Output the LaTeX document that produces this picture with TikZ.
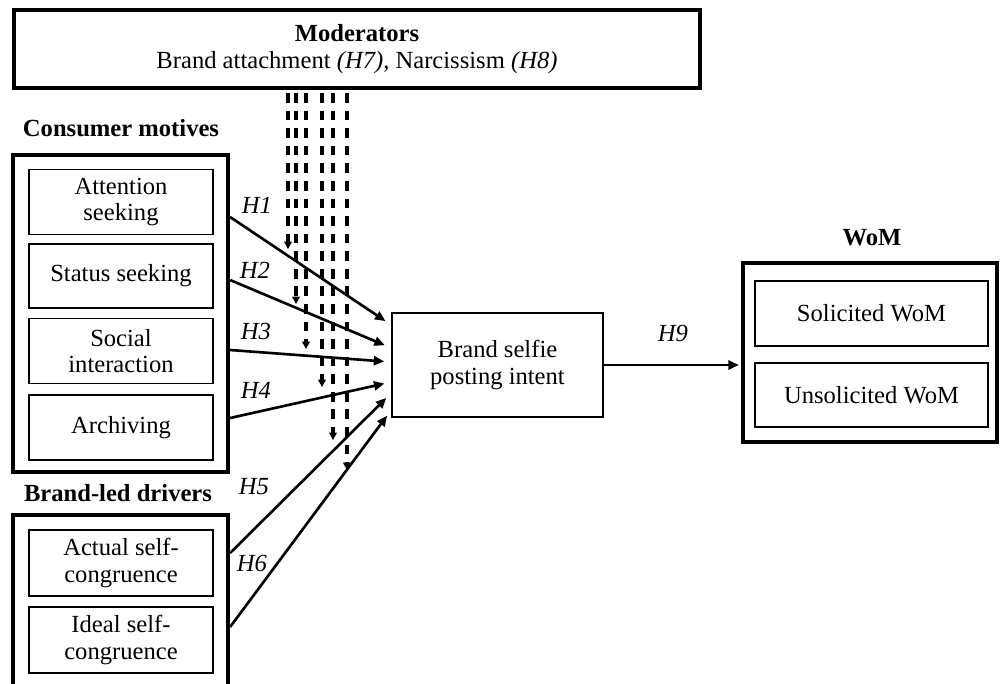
\documentclass[tikz,border=0pt]{standalone}
\usepackage{fontspec}
\setmainfont{Liberation Serif}
\usetikzlibrary{arrows.meta,calc}
\newcommand{\hyp}[1]{\textit{#1}}

\begin{document}
\begin{tikzpicture}[
  txt/.style={font=\fontsize{14}{15}\selectfont,align=center},
  head/.style={font=\fontsize{14}{15}\selectfont\bfseries,align=center},
  hlab/.style={font=\fontsize{14}{15}\selectfont\itshape},
  group/.style={draw,line width=2.4pt,minimum width=4.3cm},
  item/.style={txt,draw,line width=0.8pt,minimum width=3.68cm,minimum height=1.3cm,inner sep=2pt},
  path/.style={-{Triangle[length=2.1mm,width=1.8mm]},line width=1.5pt,shorten >=0.14cm},
  modarrow/.style={-{Triangle[length=1.5mm,width=1.5mm]},line width=1.9pt,dash pattern=on 5.5pt off 4.5pt},
]
\useasboundingbox (0,0) rectangle (20,-13.68);
\node[txt,draw,line width=2.4pt,minimum width=13.72cm,minimum height=1.56cm] (mods) at (7.14,-0.98) {\textbf{Moderators}\\Brand attachment \hyp{(H7)}, Narcissism \hyp{(H8)}};
% consumer motives
\node[head] (motiveslab) at (2.42,-2.56) {Consumer motives};
\node[group,minimum height=6.34cm] (motives) at (2.41,-6.27) {};
\node[item] (attention) at (2.42,-4.04) {Attention\\seeking};
\node[item,minimum height=1.28cm] (status) at (2.42,-5.52) {Status seeking};
\node[item] (social) at (2.42,-7.02) {Social\\interaction};
\node[item] (archiving) at (2.42,-8.55) {Archiving};
% brand-led drivers
\node[head] (driverslab) at (2.36,-9.86) {Brand-led drivers};
\node[group,minimum height=3.5cm] (drivers) at (2.41,-12.05) {};
\node[item,minimum height=1.32cm] (actual) at (2.42,-11.26) {Actual self-\\congruence};
\node[item,minimum height=1.32cm] (ideal) at (2.42,-12.8) {Ideal self-\\congruence};
% outcome side
\node[item,minimum width=4.22cm,minimum height=2.08cm] (selfie) at (9.95,-7.3) {Brand selfie\\posting intent};
\node[head] (womlab) at (17.44,-4.76) {WoM};
\node[group,minimum width=5.08cm,minimum height=3.58cm] (wom) at (17.4,-7.05) {};
\node[item,minimum width=4.66cm] (solicited) at (17.43,-6.27) {Solicited WoM};
\node[item,minimum width=4.66cm,minimum height=1.28cm] (unsolicited) at (17.43,-7.9) {Unsolicited WoM};
% moderating effects
\foreach \dx/\dy in {-1.38/-3.18,-1.22/-4.28,-1.02/-5.18,-0.70/-5.94,-0.48/-7.0,-0.20/-7.6}
  \draw[modarrow] ($(mods.south)+(\dx,-0.06)$) -- ($(mods.south)+(\dx,\dy)$);
% direct paths
\foreach \src/\a/\b in {motives/1.93/0.8,motives/0.67/0.34,motives/-0.73/0.06,motives/-2.09/-0.34,drivers/0.99/-0.56,drivers/-0.49/-0.9}
  \draw[path] ($(\src.east)+(0,\a)$) -- ($(selfie.west)+(0,\b)$);
\draw[path,shorten >=0.04cm] (selfie.east) -- (selfie.east -| wom.west);
\node[hlab] (h1) at (5.14,-4.10) {H1};
\node[hlab] (h2) at (5.10,-5.40) {H2};
\node[hlab] (h3) at (5.12,-6.62) {H3};
\node[hlab] (h4) at (5.12,-7.80) {H4};
\node[hlab] (h5) at (5.08,-9.74) {H5};
\node[hlab] (h6) at (5.04,-11.26) {H6};
\node[hlab] (h9) at (13.46,-6.66) {H9};
\end{tikzpicture}
\end{document}
